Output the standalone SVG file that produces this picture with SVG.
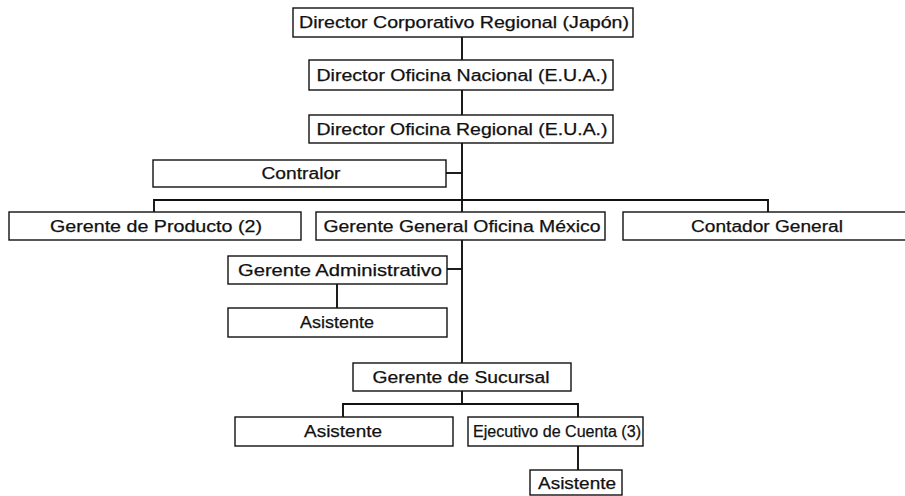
<svg xmlns="http://www.w3.org/2000/svg" width="905" height="496" viewBox="0 0 905 496">
<style>
.box{fill:#fff;stroke:#111;stroke-width:1.4}
.lbl{font-family:"Liberation Sans",Arial,sans-serif;font-size:16px;fill:#111;text-anchor:middle;stroke:#111;stroke-width:0.25}
.con{fill:none;stroke:#111;stroke-width:1.9}
</style>
<rect width="905" height="496" fill="#fff"/>
<g id="connectors">
<path class="con" d="M462 37V60M462 90V115M462 143V363"/>
<path class="con" d="M446 173H462"/>
<path class="con" d="M154 212V200H768V212"/>
<path class="con" d="M447 269H462"/>
<path class="con" d="M337 284V308"/>
<path class="con" d="M462 391V404M343 417V404H578V417"/>
<path class="con" d="M578 446V470"/>
</g>
<g id="n1"><rect class="box" x="293" y="8" width="340" height="29"/><text class="lbl" x="464" y="28" textLength="330" lengthAdjust="spacingAndGlyphs">Director Corporativo Regional (Japón)</text></g>
<g id="n2"><rect class="box" x="309" y="60" width="304" height="30"/><text class="lbl" x="462" y="81" textLength="291" lengthAdjust="spacingAndGlyphs">Director Oficina Nacional (E.U.A.)</text></g>
<g id="n3"><rect class="box" x="309" y="115" width="304" height="28"/><text class="lbl" x="462" y="135" textLength="291" lengthAdjust="spacingAndGlyphs">Director Oficina Regional (E.U.A.)</text></g>
<g id="n4"><rect class="box" x="153" y="160" width="293" height="27"/><text class="lbl" x="301" y="179" textLength="79" lengthAdjust="spacingAndGlyphs">Contralor</text></g>
<g id="n5"><rect class="box" x="9" y="212" width="292" height="28"/><text class="lbl" x="156" y="232" textLength="212" lengthAdjust="spacingAndGlyphs">Gerente de Producto (2)</text></g>
<g id="n6"><rect class="box" x="316" y="212" width="289" height="28"/><text class="lbl" x="462" y="232" textLength="277" lengthAdjust="spacingAndGlyphs">Gerente General Oficina México</text></g>
<g id="n7"><rect class="box" x="623" y="212" width="300" height="28"/><text class="lbl" x="767" y="232" textLength="152" lengthAdjust="spacingAndGlyphs">Contador General</text></g>
<g id="n8"><rect class="box" x="228" y="256" width="219" height="28"/><text class="lbl" x="340" y="276" textLength="204" lengthAdjust="spacingAndGlyphs">Gerente Administrativo</text></g>
<g id="n9"><rect class="box" x="228" y="308" width="219" height="29"/><text class="lbl" x="337" y="328" textLength="74" lengthAdjust="spacingAndGlyphs">Asistente</text></g>
<g id="n10"><rect class="box" x="353" y="363" width="218" height="28"/><text class="lbl" x="461" y="383" textLength="177" lengthAdjust="spacingAndGlyphs">Gerente de Sucursal</text></g>
<g id="n11"><rect class="box" x="235" y="417" width="218" height="29"/><text class="lbl" x="343" y="437" textLength="78" lengthAdjust="spacingAndGlyphs">Asistente</text></g>
<g id="n12"><rect class="box" x="468" y="417" width="175" height="29"/><text class="lbl" x="557" y="437" textLength="168" lengthAdjust="spacingAndGlyphs">Ejecutivo de Cuenta (3)</text></g>
<g id="n13"><rect class="box" x="530" y="470" width="92" height="25"/><text class="lbl" x="577" y="489" textLength="78" lengthAdjust="spacingAndGlyphs">Asistente</text></g>
</svg>
